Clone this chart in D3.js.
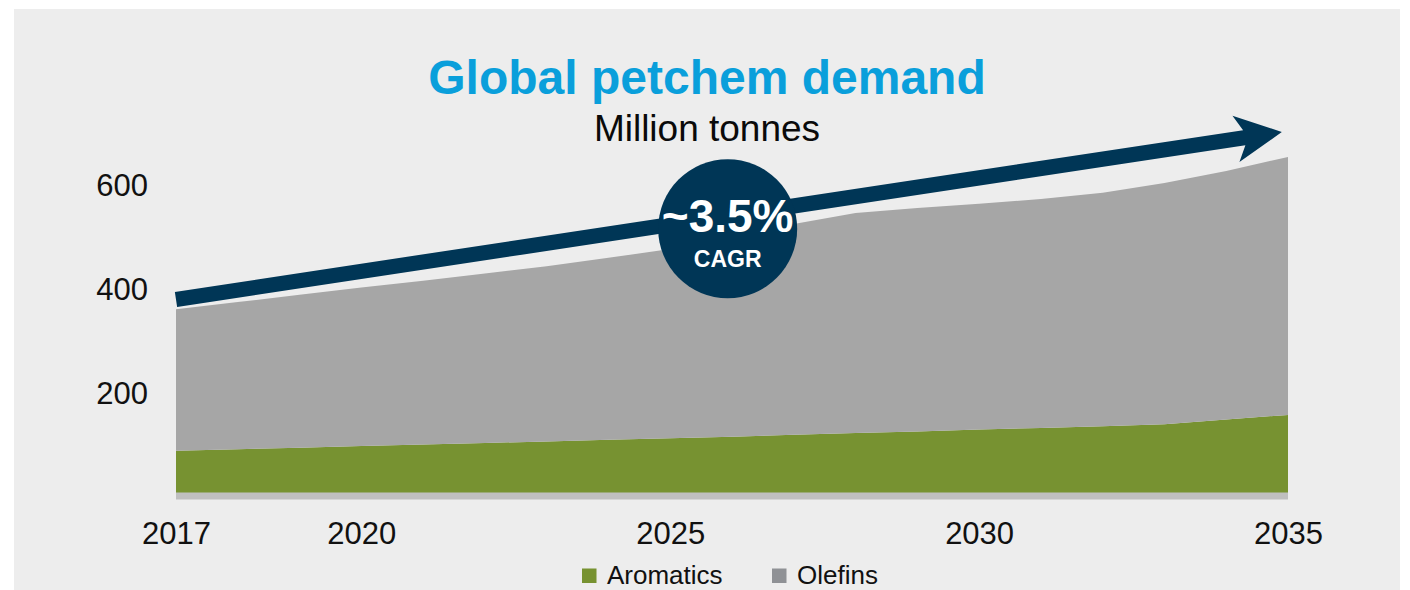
<!DOCTYPE html>
<html>
<head>
<meta charset="utf-8">
<script src="https://cdn.jsdelivr.net/npm/d3@7"></script>
<style>
  html, body { margin: 0; padding: 0; background: #ffffff; }
  svg { display: block; }
  text { font-family: "Liberation Sans", Arial, Helvetica, sans-serif; }
</style>
</head>
<body>
<svg id="chart" width="1410" height="590"></svg>
<script>
// Global petrochemical demand, million tonnes
const years = [2017, 2018, 2019, 2020, 2021, 2022, 2023, 2024, 2025, 2026,
               2027, 2028, 2029, 2030, 2031, 2032, 2033, 2034, 2035];
const aromatics = [87, 90, 93, 96, 99, 102, 105, 108, 111, 114,
                   118, 121, 124, 128, 131, 134, 138, 147, 156];
const olefins = [272, 283, 294, 305, 315, 326, 337, 350, 364, 384,
                 405, 423, 430, 434, 440, 449, 464, 478, 496];
const seriesKeys = ["Aromatics", "Olefins"];
const seriesColors = ["#779231", "#a6a6a6"];
const legendColors = ["#779231", "#8f9195"];
const xTickValues = [2017, 2020, 2025, 2030, 2035];
const yTickValues = [200, 400, 600];

// CAGR annotation: arrow (start and tip) and badge, in data units
const arrowFrom = { year: 2017, value: 378 };
const arrowTo = { year: 2034.9, value: 700 };
const badgeAt = { year: 2025.93, value: 514 };
const badgeMain = "~3.5%";
const badgeSub = "CAGR";

const titleText = "Global petchem demand";
const subtitleText = "Million tonnes";

const svg = d3.select("#chart");
const navy = "#003656";

// panel background
svg.append("rect")
  .attr("x", 14).attr("y", 9)
  .attr("width", 1386).attr("height", 581)
  .attr("fill", "#ededed");

const x = d3.scaleLinear().domain([2017, 2035]).range([176, 1288]);
const y = d3.scaleLinear().domain([0, 600]).range([496, 184]);

const table = years.map((yr, i) => ({ year: yr, Aromatics: aromatics[i], Olefins: olefins[i] }));
const stacked = d3.stack().keys(seriesKeys)(table);

const area = d3.area()
  .x(d => x(d.data.year))
  .y0(d => y(d[0]))
  .y1(d => y(d[1]));

svg.append("g")
  .selectAll("path")
  .data(stacked)
  .join("path")
  .attr("d", area)
  .attr("fill", (d, i) => seriesColors[i]);

// baseline
svg.append("line")
  .attr("x1", x(2017)).attr("x2", x(2035))
  .attr("y1", y(0)).attr("y2", y(0))
  .attr("stroke", "#bfbfbf")
  .attr("stroke-width", 7);

// x axis labels
const xAxis = d3.axisBottom(x)
  .tickValues(xTickValues)
  .tickFormat(d3.format("d"))
  .tickSize(0)
  .tickPadding(0);
const gx = svg.append("g")
  .attr("transform", `translate(0,${y(0)})`)
  .call(xAxis);
gx.select(".domain").remove();
gx.selectAll("text")
  .attr("y", 48)
  .attr("dy", 0)
  .attr("fill", "#111111")
  .style("font-size", "31px")
  .style("font-family", "'Liberation Sans', Arial, sans-serif");

// y axis labels
const yAxis = d3.axisLeft(y)
  .tickValues(yTickValues)
  .tickSize(0)
  .tickPadding(0);
const gy = svg.append("g")
  .attr("transform", "translate(148,0)")
  .call(yAxis);
gy.select(".domain").remove();
gy.selectAll("text")
  .attr("x", 0)
  .attr("dy", "0.36em")
  .attr("fill", "#111111")
  .style("font-size", "31px")
  .style("font-family", "'Liberation Sans', Arial, sans-serif");

// growth arrow
const p0 = [x(arrowFrom.year), y(arrowFrom.value)];
const tip = [x(arrowTo.year), y(arrowTo.value)];
const len = Math.hypot(tip[0] - p0[0], tip[1] - p0[1]);
const u = [(tip[0] - p0[0]) / len, (tip[1] - p0[1]) / len];
const n = [-u[1], u[0]];
const headLen = 38, shaftHalf = 7.6, headHalf = 23.4, barbBack = 8.4;
const notch = [tip[0] - headLen * u[0], tip[1] - headLen * u[1]];
const pt = (base, a, b) => [base[0] + a * u[0] + b * n[0], base[1] + a * u[1] + b * n[1]];
const arrowPts = [
  pt(p0, 0, -shaftHalf),
  pt(notch, 0, -shaftHalf),
  pt(notch, -barbBack, -headHalf),
  tip,
  pt(notch, -barbBack, headHalf),
  pt(notch, 0, shaftHalf),
  pt(p0, 0, shaftHalf)
];
svg.append("path")
  .attr("d", d3.line()(arrowPts) + "Z")
  .attr("fill", navy);

// CAGR badge
const cx = x(badgeAt.year), cy = y(badgeAt.value);
svg.append("circle")
  .attr("cx", cx).attr("cy", cy).attr("r", 69.5)
  .attr("fill", navy);
svg.append("text")
  .attr("x", cx).attr("y", cy + 3)
  .attr("text-anchor", "middle")
  .attr("fill", "#ffffff")
  .style("font-size", "46px")
  .style("font-weight", "bold")
  .text(badgeMain);
svg.append("text")
  .attr("x", cx).attr("y", cy + 38)
  .attr("text-anchor", "middle")
  .attr("fill", "#ffffff")
  .style("font-size", "23px")
  .style("font-weight", "bold")
  .text(badgeSub);

// titles
svg.append("text")
  .attr("x", 707).attr("y", 94)
  .attr("text-anchor", "middle")
  .attr("fill", "#0a9fdb")
  .style("font-size", "48px")
  .style("font-weight", "bold")
  .text(titleText);
svg.append("text")
  .attr("x", 707).attr("y", 141)
  .attr("text-anchor", "middle")
  .attr("fill", "#0a0a0a")
  .style("font-size", "37px")
  .text(subtitleText);

// legend
const legendX = [582, 772];
const legend = svg.append("g")
  .selectAll("g")
  .data(seriesKeys)
  .join("g")
  .attr("transform", (d, i) => `translate(${legendX[i]},568.5)`);
legend.append("rect")
  .attr("width", 14.5).attr("height", 14.5)
  .attr("fill", (d, i) => legendColors[i]);
legend.append("text")
  .attr("x", 25).attr("y", 15.5)
  .attr("fill", "#111111")
  .style("font-size", "26px")
  .text(d => d);
</script>
</body>
</html>
